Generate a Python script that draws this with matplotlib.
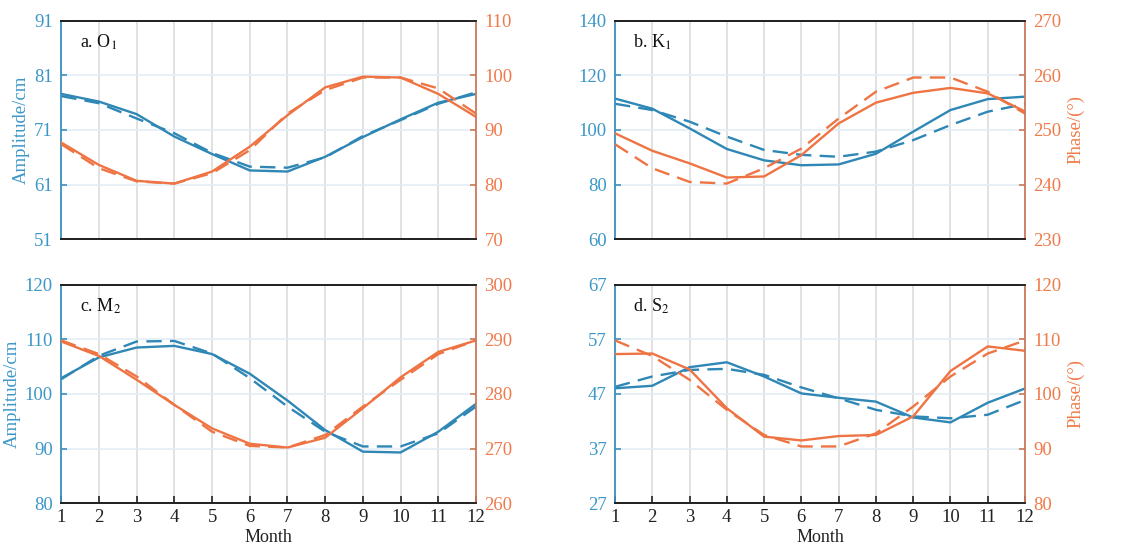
import matplotlib.pyplot as plt

plt.rcParams['font.family'] = ['Liberation Serif', 'DejaVu Serif']
plt.rcParams['mathtext.fontset'] = 'stix'

months = list(range(1, 13))

# O1
o1_amp = [77.6, 76.2, 73.9, 69.8, 66.6, 63.6, 63.4, 66.1, 69.7, 72.95, 76.0, 77.6]
o1_amp_d = [77.2, 75.9, 73.1, 70.4, 66.8, 64.3, 64.1, 66.0, 69.9, 72.8, 75.8, 77.9]
o1_pha = [87.7, 83.6, 80.7, 80.2, 82.4, 86.95, 92.7, 97.8, 99.76, 99.6, 96.6, 92.4]
o1_pha_d = [87.4, 83.0, 80.6, 80.2, 82.1, 86.3, 93.0, 97.3, 99.6, 99.6, 97.6, 93.0]

# K1
k1_amp = [111.5, 107.8, 100.6, 93.05, 88.9, 87.1, 87.4, 91.3, 99.4, 107.3, 111.3, 112.2]
k1_amp_d = [109.6, 107.3, 103.05, 97.6, 92.7, 90.9, 90.2, 92.1, 96.3, 101.8, 106.7, 109.5]
k1_pha = [249.4, 246.2, 243.9, 241.3, 241.5, 245.4, 251.2, 255.0, 256.8, 257.7, 256.7, 253.4]
k1_pha_d = [247.4, 243.0, 240.5, 240.2, 243.0, 246.6, 252.1, 257.0, 259.6, 259.6, 257.0, 253.0]

# M2
m2_amp = [102.9, 106.7, 108.5, 108.8, 107.3, 103.7, 98.8, 93.4, 89.45, 89.3, 93.1, 98.2]
m2_amp_d = [102.7, 107.0, 109.6, 109.7, 107.4, 102.9, 97.7, 93.1, 90.4, 90.4, 92.8, 97.7]
m2_pha = [289.6, 286.95, 282.6, 278.0, 273.7, 270.9, 270.2, 272.0, 277.4, 283.05, 287.7, 289.8]
m2_pha_d = [289.8, 287.3, 283.2, 278.0, 273.1, 270.5, 270.2, 272.5, 277.7, 282.6, 287.3, 289.8]

# S2
s2_amp = [48.04, 48.5, 51.9, 52.8, 50.2, 47.1, 46.3, 45.6, 42.7, 41.8, 45.4, 48.0]
s2_amp_d = [48.3, 50.2, 51.4, 51.6, 50.5, 48.2, 46.2, 44.1, 42.9, 42.55, 43.2, 45.9]
s2_pha = [107.3, 107.4, 104.5, 97.4, 92.2, 91.5, 92.3, 92.5, 95.9, 104.2, 108.7, 107.9]
s2_pha_d = [109.8, 106.95, 102.6, 97.1, 92.5, 90.4, 90.4, 92.8, 97.7, 103.2, 107.4, 109.8]

panels = [
    ("a. O$_1$", o1_amp, o1_amp_d, o1_pha, o1_pha_d, [51, 61, 71, 81, 91], [70, 80, 90, 100, 110]),
    ("b. K$_1$", k1_amp, k1_amp_d, k1_pha, k1_pha_d, [60, 80, 100, 120, 140], [230, 240, 250, 260, 270]),
    ("c. M$_2$", m2_amp, m2_amp_d, m2_pha, m2_pha_d, [80, 90, 100, 110, 120], [260, 270, 280, 290, 300]),
    ("d. S$_2$", s2_amp, s2_amp_d, s2_pha, s2_pha_d, [27, 37, 47, 57, 67], [80, 90, 100, 110, 120]),
]

blue = '#2f87b6'
orange = '#ef7443'
blue_txt = '#3b97c8'
orange_txt = '#f07a4a'

pos = [
    [0.0543, 0.5625, 0.3677, 0.3997],
    [0.5452, 0.5625, 0.3635, 0.3997],
    [0.0543, 0.0799, 0.3677, 0.3997],
    [0.5452, 0.0799, 0.3635, 0.3997],
]

fig = plt.figure(figsize=(11.28, 5.47), dpi=100)

for i, (title, amp, amp_d, pha, pha_d, lt, rt) in enumerate(panels):
    ax = fig.add_axes(pos[i])
    ax2 = ax.twinx()
    ax.set_zorder(ax2.get_zorder() - 1)

    # grid
    for m in months[1:-1]:
        ax.axvline(m, color='#dcdcdc', lw=1.2, zorder=0)
    for v in lt[1:-1]:
        ax.axhline(v, color='#e1eef5', lw=1.2, zorder=0)

    ax.plot(months, amp, color=blue, lw=1.7)
    ax.plot(months, amp_d, color=blue, lw=1.7, dashes=(6.5, 3.5))
    ax2.plot(months, pha, color=orange, lw=1.7)
    ax2.plot(months, pha_d, color=orange, lw=1.7, dashes=(6.5, 3.5))

    ax.set_xlim(1, 12)
    ax.set_ylim(lt[0], lt[-1])
    ax2.set_ylim(rt[0], rt[-1])
    ax.set_yticks(lt)
    ax2.set_yticks(rt)
    ax.set_xticks(months)

    ax.tick_params(axis='y', direction='in', colors='#3a8fc0', labelcolor=blue_txt,
                   labelsize=13.5, length=4, width=1.2, pad=6)
    ax2.tick_params(axis='y', direction='in', colors='#c9785a', labelcolor=orange_txt,
                    labelsize=13.5, length=4, width=1.2, pad=6)
    if i >= 2:
        ax.tick_params(axis='x', direction='in', colors='#222222', labelsize=13.5,
                       length=5, width=1.2, pad=4)
        ax.set_xlabel('Month', fontsize=13, labelpad=2, color='#222222')
    else:
        ax.tick_params(axis='x', length=0, labelbottom=False)

    ax.spines['left'].set_color('#3a8fc0')
    ax2.spines['left'].set_visible(False)
    ax2.spines['right'].set_color('#c9785a')
    ax.spines['right'].set_visible(False)
    for sp in ('top', 'bottom'):
        ax.spines[sp].set_color('#222222')
        ax2.spines[sp].set_color('#222222')
    for a in (ax, ax2):
        for sp in a.spines.values():
            sp.set_linewidth(1.3)

    if i % 2 == 0:
        ax.set_ylabel('Amplitude/cm', fontsize=13.5, color=blue_txt, labelpad=3)
    else:
        ax2.set_ylabel('Phase/(°)', fontsize=13.5, color=orange_txt, labelpad=4)

    ax.text(0.045, 0.875, title, transform=ax.transAxes, fontsize=13, color='#111111')

fig.savefig('out.png', dpi=100)
